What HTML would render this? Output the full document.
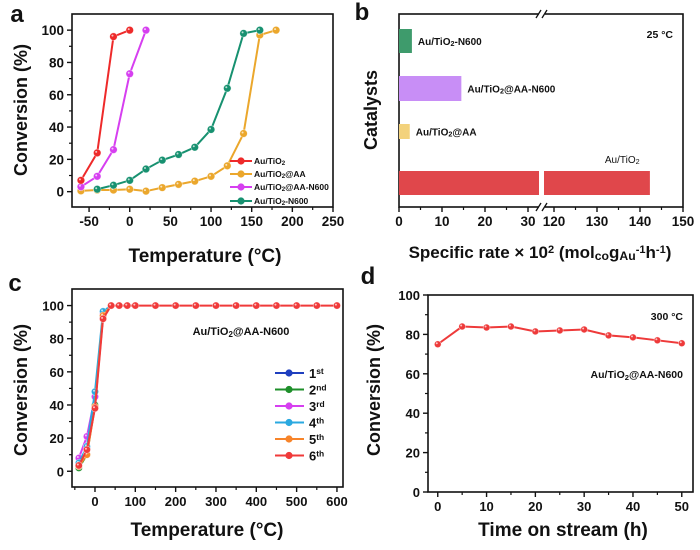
<!DOCTYPE html>
<html><head><meta charset="utf-8"><style>
html,body{margin:0;padding:0;background:#fff}
svg{display:block;font-family:"Liberation Sans",Arial,sans-serif;font-weight:bold}
</style></head><body>
<svg id="fig" width="700" height="550" viewBox="0 0 700 550" xmlns="http://www.w3.org/2000/svg"></svg>
<script>
// ---- Panel a data ----
const aTemps1 = [-60,-40,-20,0];
const aAuTiO2 = [7,24,96,100];
const aTemps2 = [-60,-40,-20,0,20,40,60,80,100,120,140,160,180];
const aAuTiO2AA = [0.5,1,1,1.5,0.3,2.5,4.5,6.5,9.5,16,36,97,100];
const aTemps3 = [-60,-40,-20,0,20];
const aAuTiO2AAN600 = [3,9.5,26,73,100];
const aTemps4 = [-40,-20,0,20,40,60,80,100,120,140,160];
const aAuTiO2N600 = [1.5,4,7,14,19.5,23,27.5,38.5,64,98,100];
const aXTicks = [-50,0,50,100,150,200,250];
const aYTicks = [0,20,40,60,80,100];
// ---- Panel b data ----
const bCats = ["Au/TiO2-N600","Au/TiO2@AA-N600","Au/TiO2@AA","Au/TiO2"];
const bRates = [3,14.5,2.5,142.3];
const bXTicksLeft = [0,10,20,30];
const bXTicksRight = [120,130,140,150];
// ---- Panel c data ----
const cTemps = [-40,-20,0,20,40,60,80,100,150,200,250,300,350,400,450,500,550,600];
const cRun1 = [3,14,45,93,100];
const cRun2 = [2,10,40,94,100];
const cRun3 = [8,21,45,95,100];
const cRun4 = [5,15,48,96.5,100];
const cRun5 = [3,10,39,94,100];
const cRun6 = [3.5,13,38,92,100,100,100,100,100,100,100,100,100,100,100,100,100,100];
const cXTicks = [0,100,200,300,400,500,600];
const cYTicks = [0,20,40,60,80,100];
// ---- Panel d data ----
const dTimes = [0,5,10,15,20,25,30,35,40,45,50];
const dConv = [75,84,83.5,84,81.5,82,82.5,79.5,78.5,77,75.5];
const dXTicks = [0,10,20,30,40,50];
const dYTicks = [0,20,40,60,80,100];

const NS="http://www.w3.org/2000/svg";
const svg=document.getElementById('fig');
function mk(tag,attrs,parent){const e=document.createElementNS(NS,tag);for(const k in attrs)e.setAttribute(k,attrs[k]);(parent||svg).appendChild(e);return e;}
function txt(s,x,y,size,anchor,parent){const t=mk('text',{x:x,y:y,'font-size':size,'text-anchor':anchor||'middle',fill:'#111'},parent);t.innerHTML=s;return t;}
function lin(d0,d1,r0,r1){return v=>r0+(v-d0)*(r1-r0)/(d1-d0);}

function frame(x0,y0,x1,y1,name){
  const r=mk('rect',{x:x0,y:y0,width:x1-x0,height:y1-y0,fill:'none',stroke:'#111','stroke-width':1.6});
  
  
}
function xticks(ticks,sx,yb,size,minorStep,dom,name){
  const g=mk('g',{});
  
  
  ticks.forEach(v=>{mk('line',{x1:sx(v),x2:sx(v),y1:yb,y2:yb+5,stroke:'#111','stroke-width':1.4},g);txt(String(v),sx(v),yb+19,size,'middle',g);});
  if(minorStep){for(let v=dom[0];v<=dom[1];v+=minorStep){if(ticks.indexOf(v)<0)mk('line',{x1:sx(v),x2:sx(v),y1:yb,y2:yb+3,stroke:'#111','stroke-width':1.2},g);}}
}
function yticks(ticks,sy,xl,size,minorStep,dom,name){
  const g=mk('g',{});
  
  
  ticks.forEach(v=>{mk('line',{x1:xl-5,x2:xl,y1:sy(v),y2:sy(v),stroke:'#111','stroke-width':1.4},g);txt(String(v),xl-8,sy(v)+5,size,'end',g);});
  if(minorStep){for(let v=dom[0];v<=dom[1];v+=minorStep){if(ticks.indexOf(v)<0)mk('line',{x1:xl-3,x2:xl,y1:sy(v),y2:sy(v),stroke:'#111','stroke-width':1.2},g);}}
}
function series(xs,ys,sx,sy,color,name,r){
  const g=mk('g',{});
  
  
  const n=Math.min(xs.length,ys.length);
  let d='';for(let i=0;i<n;i++)d+=(i?'L':'M')+sx(xs[i])+','+sy(ys[i]);
  mk('path',{d:d,fill:'none',stroke:color,'stroke-width':2},g);
  for(let i=0;i<n;i++){
    const c=mk('circle',{cx:sx(xs[i]),cy:sy(ys[i]),r:r||3.8,fill:color,stroke:'#fff','stroke-width':0.6,'stroke-opacity':0.6},g);
    
    
    mk('circle',{cx:sx(xs[i])-1,cy:sy(ys[i])-1,r:1,fill:'#fff','fill-opacity':0.7},g);
  }
}
function ytitle(s,x,y,size,name){
  const t=mk('text',{x:0,y:0,'font-size':size,'text-anchor':'middle',fill:'#111',transform:`translate(${x},${y}) rotate(-90)`});
  t.innerHTML=s;
  
  
}
function label(s,x,y,size,anchor,name){
  const t=txt(s,x,y,size,anchor);
  
  
}
const sub=s=>`<tspan font-size="0.72em" baseline-shift="-20%">${s}</tspan>`;
const sup=s=>`<tspan font-size="0.65em" baseline-shift="45%">${s}</tspan>`;

// ================= Panel a =================
{
const X0=72,X1=333,Y0=14,Y1=207;
const sx=lin(-71,250,X0,X1), sy=lin(-9.5,110,Y1,Y0);
frame(X0,Y0,X1,Y1,'panel-a-frame');
xticks(aXTicks,sx,Y1,13.5,25,[-50,250],'panel-a-x-axis');
yticks(aYTicks,sy,X0,13.5,10,[-0,100],'panel-a-y-axis');
series(aTemps2,aAuTiO2AA,sx,sy,'#eba72c','series-au-tio2-aa');
series(aTemps4,aAuTiO2N600,sx,sy,'#179170','series-au-tio2-n600');
series(aTemps3,aAuTiO2AAN600,sx,sy,'#d63ff0','series-au-tio2-aa-n600');
series(aTemps1,aAuTiO2,sx,sy,'#ee2a2a','series-au-tio2');
label('a',17,22,24,'middle','panel-a-label');
ytitle('Conversion (%)',27,110,18,'panel-a-y-title');
label('Temperature (°C)',205,262,19,'middle','panel-a-x-title');
const leg=[['Au/TiO'+sub('2'),'#ee2a2a',161],['Au/TiO'+sub('2')+'@AA','#eba72c',174],['Au/TiO'+sub('2')+'@AA-N600','#d63ff0',187],['Au/TiO'+sub('2')+'-N600','#179170',201]];
leg.forEach((l,i)=>{
  const g=mk('g',{});
  
  
  mk('line',{x1:230,x2:252,y1:l[2],y2:l[2],stroke:l[1],'stroke-width':2},g);
  mk('circle',{cx:241,cy:l[2],r:3.6,fill:l[1]},g);
  txt(l[0],254,l[2]+3,8.5,'start',g);
});
}

// ================= Panel b =================
{
const X0=399,X1=683,Y0=14,Y1=207;
const px=4.3;
const sxL=v=>X0+v*px, sxR=v=>554+(v-120)*px;
frame(X0,Y0,X1,Y1,'panel-b-frame');
mk('rect',{x:539,y:Y0-2,width:6,height:4,fill:'#fff'});
mk('rect',{x:539,y:Y1-2,width:6,height:4,fill:'#fff'});
['M536,'+(Y0+4)+'L541,'+(Y0-4),'M542,'+(Y0+4)+'L547,'+(Y0-4),'M536,'+(Y1+4)+'L541,'+(Y1-4),'M542,'+(Y1+4)+'L547,'+(Y1-4)].forEach(d=>mk('path',{d:d,stroke:'#111','stroke-width':1.3}));
const g=mk('g',{});


bXTicksLeft.forEach(v=>{mk('line',{x1:sxL(v),x2:sxL(v),y1:Y1,y2:Y1+5,stroke:'#111','stroke-width':1.4},g);txt(String(v),sxL(v),Y1+19,13.5,'middle',g);});
bXTicksRight.forEach(v=>{mk('line',{x1:sxR(v),x2:sxR(v),y1:Y1,y2:Y1+5,stroke:'#111','stroke-width':1.4},g);txt(String(v),sxR(v),Y1+19,13.5,'middle',g);});
[5,15,25].forEach(v=>mk('line',{x1:sxL(v),x2:sxL(v),y1:Y1,y2:Y1+3,stroke:'#111','stroke-width':1.2},g));
[125,135,145].forEach(v=>mk('line',{x1:sxR(v),x2:sxR(v),y1:Y1,y2:Y1+3,stroke:'#111','stroke-width':1.2},g));
const colors=['#3e9b6c','#c88ef6','#f3d27c','#e0474b'];
const tops=[29,76,124,171], hs=[24,25,15,24];
const labs=['Au/TiO'+sub('2')+'-N600','Au/TiO'+sub('2')+'@AA-N600','Au/TiO'+sub('2')+'@AA','Au/TiO'+sub('2')];
bCats.forEach((c,i)=>{
  const v=bRates[i];
  const nm='bar-'+c.toLowerCase().replace(/[^a-z0-9]+/g,'-');
  if(v<=35){
    const b=mk('rect',{x:X0,y:tops[i],width:sxL(v)-X0,height:hs[i],fill:colors[i]});
    
    
    txt(labs[i],sxL(v)+6,tops[i]+hs[i]/2+4,10,'start');
  } else {
    const b=mk('rect',{x:X0,y:tops[i],width:539-X0,height:hs[i],fill:colors[i]});
    
    
    const b2=mk('rect',{x:544,y:tops[i],width:sxR(v)-544,height:hs[i],fill:colors[i]});
    
    
    const t=txt(labs[i],sxR(v)-45,tops[i]-8,10,'start');
    t.setAttribute('font-weight','normal');
  }
});
label('b',362,20,24,'middle','panel-b-label');
label('25 °C',673,38,10.5,'end','panel-b-temp-note');
ytitle('Catalysts',377,110,18,'panel-b-y-title');
label('Specific rate × 10'+sup('2')+' (mol'+sub('co')+'g'+sub('Au')+sup('-1')+'h'+sup('-1')+')',540,258,17,'middle','panel-b-x-title');
}

// ================= Panel c =================
{
const X0=72,X1=343,Y0=289,Y1=487;
const sx=lin(-57,615,X0,X1), sy=lin(-9.5,110,Y1,Y0);
frame(X0,Y0,X1,Y1,'panel-c-frame');
xticks(cXTicks,sx,Y1,13,50,[-50,600],'panel-c-x-axis');
yticks(cYTicks,sy,X0,13,10,[0,100],'panel-c-y-axis');
const runs=[cRun1,cRun2,cRun3,cRun4,cRun5,cRun6];
const cols=['#1f3fbf','#1e8f2a','#d63ff0','#2aa9e0','#f7842a','#f03a3a'];
runs.forEach((r,i)=>series(cTemps,r,sx,sy,cols[i],'series-run-'+(i+1),3.6));
label('c',15,291,24,'middle','panel-c-label');
ytitle('Conversion (%)',27,390,18,'panel-c-y-title');
label('Temperature (°C)',207,536,19,'middle','panel-c-x-title');
label('Au/TiO'+sub('2')+'@AA-N600',241,335,11,'middle','panel-c-sample-note');
const names=['1'+sup('st'),'2'+sup('nd'),'3'+sup('rd'),'4'+sup('th'),'5'+sup('th'),'6'+sup('th')];
names.forEach((n,i)=>{
  const y=373+i*16.5;
  const g=mk('g',{});
  
  
  mk('line',{x1:275,x2:304,y1:y,y2:y,stroke:cols[i],'stroke-width':2},g);
  mk('circle',{cx:289,cy:y,r:3.6,fill:cols[i]},g);
  txt(n,309,y+5,13,'start',g);
});
}

// ================= Panel d =================
{
const X0=428,X1=693,Y0=295,Y1=492;
const sx=lin(-2,52.3,X0,X1), sy=lin(0,100,Y1,Y0);
frame(X0,Y0,X1,Y1,'panel-d-frame');
xticks(dXTicks,sx,Y1,13,5,[0,50],'panel-d-x-axis');
yticks(dYTicks,sy,X0,13,10,[0,100],'panel-d-y-axis');
series(dTimes,dConv,sx,sy,'#ee3a3a','series-stability',3.4);
label('d',368,284,24,'middle','panel-d-label');
ytitle('Conversion (%)',380,390,18,'panel-d-y-title');
label('Time on stream (h)',563,536,19,'middle','panel-d-x-title');
label('300 °C',683,320,10.5,'end','panel-d-temp-note');
label('Au/TiO'+sub('2')+'@AA-N600',683,378,10.5,'end','panel-d-sample-note');
}
</script>
</body></html>
